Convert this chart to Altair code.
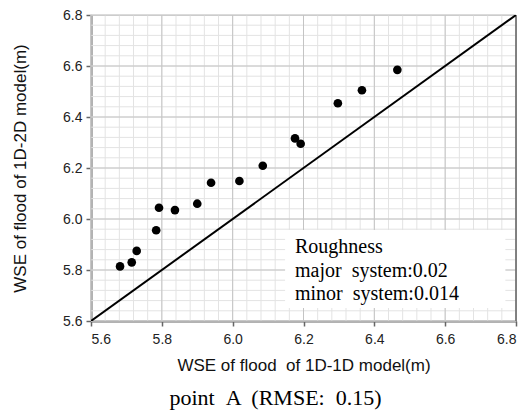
import altair as alt
import pandas as pd

# Scatter data
x_1d1d = [5.682, 5.715, 5.729, 5.784, 5.792, 5.837, 5.900, 5.939, 6.019, 6.085, 6.176, 6.192, 6.297, 6.365, 6.465]
y_1d2d = [5.814, 5.830, 5.875, 5.956, 6.044, 6.035, 6.060, 6.142, 6.149, 6.209, 6.316, 6.295, 6.454, 6.505, 6.585]

# 1:1 line
line_x = [5.6, 6.8]
line_y = [5.6, 6.8]

# Axis ticks and grid
major_ticks = [5.6, 5.8, 6.0, 6.2, 6.4, 6.6, 6.8]
minor_ticks = [round(5.6 + 0.04 * i, 2) for i in range(31)]
right_edge = [6.8]

NB = "\u00a0"
# Annotation
note_lines = ["Roughness", "major " + NB + "system:0.02", "minor " + NB + "system:0.014"]
note_x = [6.176, 6.176, 6.176]
note_y = [5.867, 5.773, 5.682]
box_x = [6.148]
box_x2 = [6.770]
box_y = [5.957]
box_y2 = [5.651]
caption = "point " + NB + "A " + NB + "(RMSE: " + NB + "0.15)"

DOM = [5.6, 6.8]
xs = alt.Scale(domain=DOM, nice=False, zero=False)
ys = alt.Scale(domain=DOM, nice=False, zero=False)

pts = pd.DataFrame({"x": x_1d1d, "y": y_1d2d})
line_df = pd.DataFrame({"x": line_x, "y": line_y})
minor_df = pd.DataFrame({"v": minor_ticks})
major_df = pd.DataFrame({"v": major_ticks})
edge_df = pd.DataFrame({"v": right_edge})
note_df = pd.DataFrame({"t": note_lines, "x": note_x, "y": note_y})
box_df = pd.DataFrame({"x": box_x, "x2": box_x2, "y": box_y, "y2": box_y2})

minor_v = alt.Chart(minor_df).mark_rule(color="#e3e3e3", strokeWidth=1).encode(
    x=alt.X("v:Q", scale=xs))
minor_h = alt.Chart(minor_df).mark_rule(color="#e3e3e3", strokeWidth=1).encode(
    y=alt.Y("v:Q", scale=ys))
major_v = alt.Chart(major_df).mark_rule(color="#c4c4c4", strokeWidth=1).encode(
    x=alt.X("v:Q", scale=xs))
major_h = alt.Chart(major_df).mark_rule(color="#c4c4c4", strokeWidth=1).encode(
    y=alt.Y("v:Q", scale=ys))
edge = alt.Chart(edge_df).mark_rule(color="#666666", strokeWidth=1.5).encode(
    x=alt.X("v:Q", scale=xs))

box = alt.Chart(box_df).mark_rect(fill="white", stroke=None).encode(
    x=alt.X("x:Q", scale=xs), x2="x2:Q",
    y=alt.Y("y:Q", scale=ys), y2="y2:Q")

diag = alt.Chart(line_df).mark_line(color="black", strokeWidth=2, clip=True).encode(
    x=alt.X("x:Q", scale=xs), y=alt.Y("y:Q", scale=ys))

dots = alt.Chart(pts).mark_circle(color="black", size=75, opacity=1).encode(
    x=alt.X("x:Q", scale=xs,
            axis=alt.Axis(title="WSE of flood " + NB + "of 1D-1D model(m)", values=major_ticks,
                          format=".1f", grid=False, domainColor="#666666", domainWidth=2,
                          tickColor="#666666", tickSize=5, tickWidth=1.5,
                          labelFont="Liberation Sans", labelFontSize=14, labelColor="#222222",
                          labelPadding=6, titleFont="Liberation Sans", titleFontSize=17,
                          titleFontWeight="normal", titleColor="#111111", titlePadding=11)),
    y=alt.Y("y:Q", scale=ys,
            axis=alt.Axis(title="WSE of flood of 1D-2D model(m)", values=major_ticks,
                          format=".1f", grid=False, domainColor="#666666", domainWidth=2,
                          tickColor="#666666", tickSize=5, tickWidth=1.5,
                          labelFont="Liberation Sans", labelFontSize=14, labelColor="#222222",
                          labelPadding=4, titleFont="Liberation Sans", titleFontSize=17,
                          titleFontWeight="normal", titleColor="#111111", titlePadding=33)),
)

note = alt.Chart(note_df).mark_text(align="left", baseline="alphabetic",
                                     font="Liberation Serif", fontSize=20,
                                     color="black").encode(
    x=alt.X("x:Q", scale=xs), y=alt.Y("y:Q", scale=ys), text="t:N")

chart = alt.layer(minor_v, minor_h, major_v, major_h, edge, diag, box, dots, note).properties(
    width=425, height=306,
    padding={"left": 91, "top": 15, "right": 10, "bottom": 99},
    autosize=alt.AutoSizeParams(type="none"),
    title=alt.TitleParams(caption, orient="bottom", anchor="middle",
                          font="Liberation Serif", fontSize=22, fontWeight="normal",
                          color="black", offset=15, dx=-28),
).configure_view(stroke="#c4c4c4", strokeWidth=1)

chart.save("out.html", embed_options={"renderer": "svg", "actions": False})
